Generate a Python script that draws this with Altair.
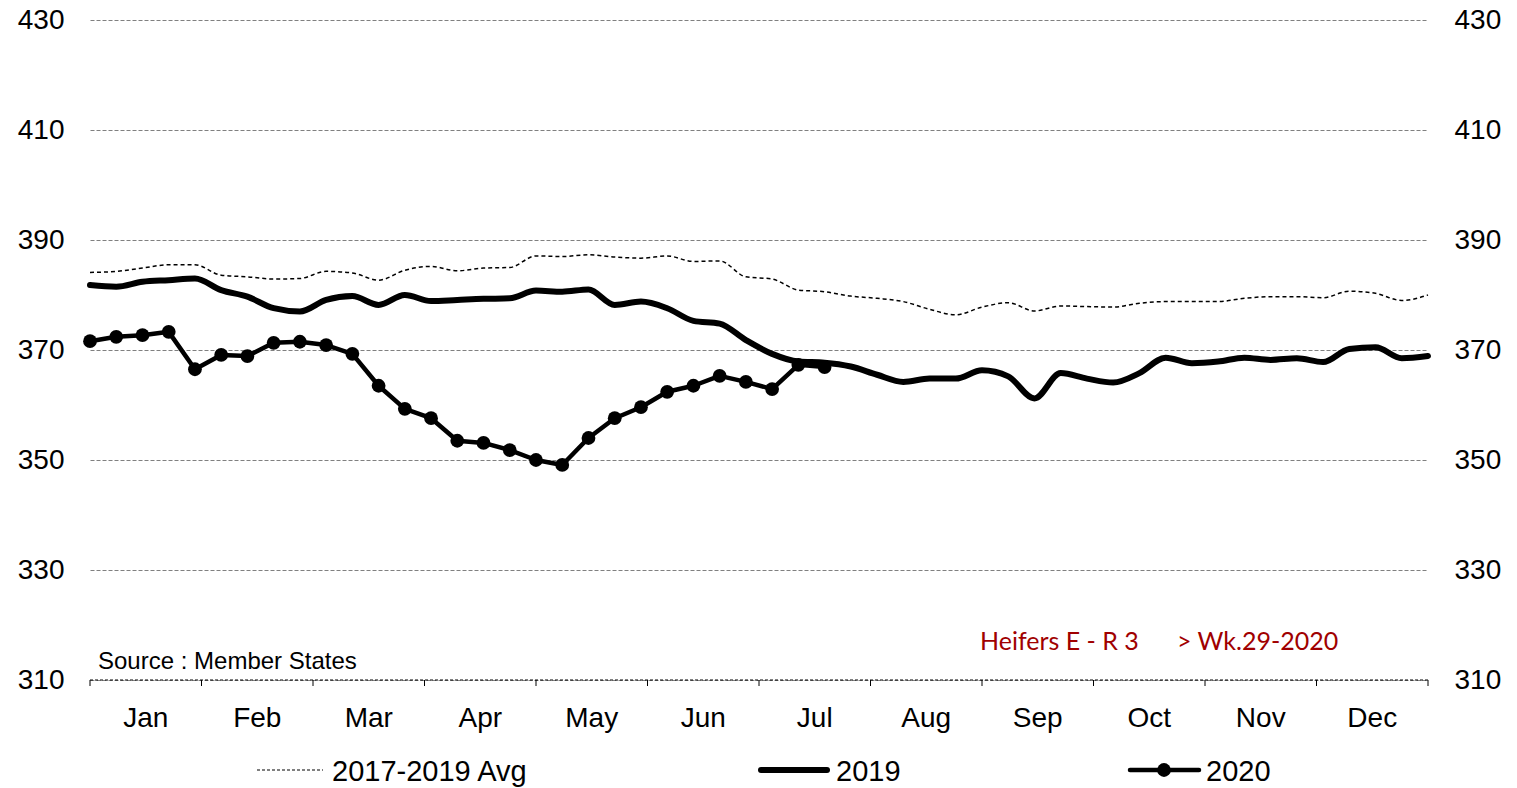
import altair as alt
import pandas as pd

# ---- data ----
weeks = list(range(1, 53))

avg_2017_2019 = [384.1, 384.3, 384.9, 385.5, 385.5, 383.6, 383.3, 382.9, 383.0, 384.3,
                 384.0, 382.7, 384.5, 385.2, 384.4, 384.9, 385.0, 387.1, 387.0, 387.3,
                 386.9, 386.7, 387.1, 386.1, 386.2, 383.3, 382.9, 380.9, 380.6, 379.8,
                 379.4, 378.8, 377.4, 376.4, 377.8, 378.6, 377.1, 378.0, 377.9, 377.8,
                 378.5, 378.8, 378.8, 378.8, 379.4, 379.7, 379.7, 379.5, 380.7, 380.3,
                 379.0, 380.0]

y2019 = [381.8, 381.5, 382.4, 382.7, 383.0, 380.9, 379.7, 377.6, 377.0, 379.1,
         379.8, 378.2, 380.0, 378.9, 379.1, 379.3, 379.4, 380.8, 380.6, 381.0,
         378.2, 378.8, 377.6, 375.3, 374.8, 371.8, 369.3, 367.9, 367.7, 367.0,
         365.5, 364.2, 364.8, 364.8, 366.3, 365.2, 361.2, 365.8, 364.8, 364.1,
         365.8, 368.6, 367.6, 367.9, 368.6, 368.2, 368.5, 367.8, 370.2, 370.5,
         368.5, 368.9]

y2020 = [371.6, 372.4, 372.7, 373.3, 366.5, 369.1, 368.9, 371.3, 371.5, 370.9,
         369.3, 363.5, 359.3, 357.6, 353.5, 353.1, 351.8, 350.0, 349.1, 354.0,
         357.6, 359.6, 362.4, 363.5, 365.3, 364.2, 362.9, 367.3, 366.9]

months = ["Jan", "Feb", "Mar", "Apr", "May", "Jun",
          "Jul", "Aug", "Sep", "Oct", "Nov", "Dec"]
y_ticks = [310, 330, 350, 370, 390, 410, 430]
series_names = ["2017-2019 Avg", "2019", "2020"]
source_text = "Source : Member States"
note_left = "Heifers E - R 3"
note_right = "> Wk.29-2020"

# ---- tables ----
df_avg = pd.DataFrame({"week": weeks, "value": avg_2017_2019})
df_19 = pd.DataFrame({"week": weeks, "value": y2019})
df_20 = pd.DataFrame({"week": weeks[:len(y2020)], "value": y2020})
month_step = (weeks[-1] - weeks[0]) / len(months)
df_months = pd.DataFrame({
    "month": months,
    "week": [weeks[0] + month_step * (i + 0.5) for i in range(len(months))],
})
df_bounds = pd.DataFrame({"week": [weeks[0] + month_step * i for i in range(len(months) + 1)]})

W, H = 1338, 660
FONT = "Liberation Sans"
YDOM = [y_ticks[0], y_ticks[-1]]

xscale = alt.Scale(domain=[weeks[0], weeks[-1]], nice=False, zero=False)
X = alt.X("week:Q", scale=xscale, axis=None)

y_left = alt.Axis(values=y_ticks, orient="left", grid=True, gridColor="#808080",
                  gridDash=[4, 2], gridWidth=1.2, domain=False, ticks=False,
                  labelFontSize=28, labelFont=FONT, labelColor="#000000",
                  labelPadding=26, title=None)
y_right = alt.Axis(values=y_ticks, orient="right", grid=False, domain=False,
                   ticks=False, labelFontSize=28, labelFont=FONT,
                   labelColor="#000000", labelPadding=26, title=None)

def yenc(axis=None):
    return alt.Y("value:Q", scale=alt.Scale(domain=YDOM, nice=False, zero=False), axis=axis)

avg_line = alt.Chart(df_avg).mark_line(
    color="#000000", strokeWidth=1.5, strokeDash=[4, 3], interpolate="monotone"
).encode(x=X, y=yenc(y_left))

l19 = alt.Chart(df_19).mark_line(
    color="#000000", strokeWidth=6, interpolate="monotone", strokeCap="round"
).encode(x=X, y=yenc(y_right))

l20 = alt.Chart(df_20).mark_line(
    color="#000000", strokeWidth=4.5, strokeJoin="round"
).encode(x=X, y=yenc())

p20 = alt.Chart(df_20).mark_point(
    filled=True, color="#000000", size=190, opacity=1, shape="circle"
).encode(x=X, y=yenc())

# x axis line (dashed) and month boundary ticks
x_domain = alt.Chart(pd.DataFrame({"a": [0]})).mark_rule(
    color="#000000", strokeWidth=1, strokeDash=[3, 2]
).encode(x=alt.value(0), x2=alt.value(W), y=alt.value(H))

ticks = alt.Chart(df_bounds).mark_rule(color="#000000", strokeWidth=1).encode(
    x=X, y=alt.value(H), y2=alt.value(H + 6))

month_labels = alt.Chart(df_months).mark_text(
    align="center", baseline="alphabetic", fontSize=28, font=FONT, color="#000000"
).encode(x=X, y=alt.value(H + 47), text="month:N")

def txt(text, x, y, size, color="#000000", font=FONT, align="left"):
    return alt.Chart(pd.DataFrame({"t": [text]})).mark_text(
        align=align, baseline="alphabetic", fontSize=size, font=font, color=color
    ).encode(text="t:N", x=alt.value(x), y=alt.value(y))

src = txt(source_text, 8, 649, 24)
n1 = txt(note_left, 890, 630, 25, color="#a00000", font="Lato")
n2 = txt(note_right, 1087, 630, 25, color="#a00000", font="Lato")

LY = 750
def rule(x1, x2, width, dash=None):
    if dash:
        kw = dict(color="#000000", strokeWidth=width, strokeDash=dash)
    else:
        kw = dict(color="#000000", strokeWidth=width, strokeCap="round")
    return alt.Chart(pd.DataFrame({"a": [0]})).mark_rule(**kw).encode(
        x=alt.value(x1), x2=alt.value(x2), y=alt.value(LY))

leg1 = rule(167, 233, 1.2, dash=[3, 2])
leg1t = txt(series_names[0], 242, 761, 29)
leg2 = rule(671, 737, 6)
leg2t = txt(series_names[1], 746, 761, 29)
leg3 = rule(1040, 1109, 4.5)
leg3p = alt.Chart(pd.DataFrame({"a": [0]})).mark_point(
    filled=True, color="#000000", size=190, opacity=1).encode(
    x=alt.value(1074), y=alt.value(LY))
leg3t = txt(series_names[2], 1116, 761, 29)

chart = alt.layer(
    avg_line, l19, l20, p20, x_domain, ticks, month_labels, src, n1, n2,
    leg1, leg1t, leg2, leg2t, leg3, leg3p, leg3t
).resolve_scale(y="independent").properties(
    width=W, height=H,
    padding={"left": 82, "top": 12, "right": 75, "bottom": 108},
    autosize=alt.AutoSizeParams(type="none"),
).configure(background="#ffffff", view=alt.ViewConfig(stroke=None))

chart.save("out.html", embed_options={"renderer": "svg", "actions": False})
